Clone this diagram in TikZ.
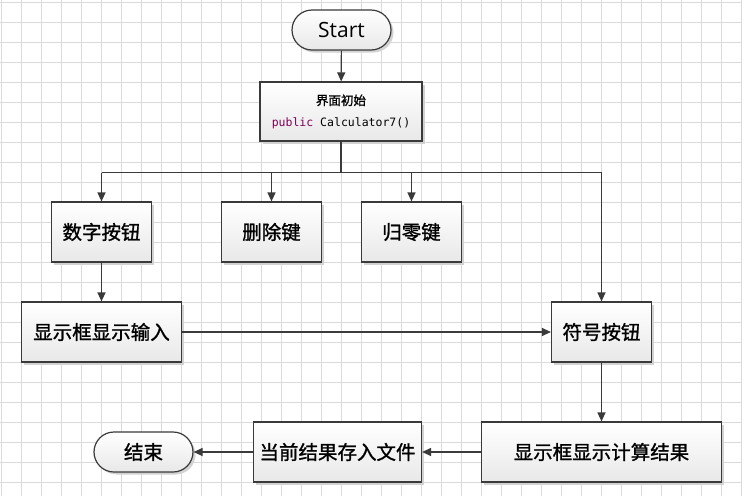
\documentclass[tikz,border=0pt]{standalone}
\usepackage{fontspec}
\setmainfont{Open Sans}
\setmonofont{DejaVu Sans Mono}
\newfontfamily\cjk[FakeBold=1.2]{Noto Sans CJK SC}
\usepackage{tikz}
\usetikzlibrary{positioning,arrows.meta,shadows}
\definecolor{kwpurple}{HTML}{7F0055}
\definecolor{edgegray}{HTML}{3A3A3A}
\definecolor{gridgray}{HTML}{DADADA}

\tikzset{
  gridline/.style={draw=gridgray, line width=1pt},
  box/.style={draw=edgegray, line width=1.2pt, rectangle, top color=white, bottom color=gray!18,
    drop shadow={shadow xshift=2.5pt, shadow yshift=-2.5pt, fill=gray!35, opacity=1},
    minimum height=60pt, inner sep=0pt, font=\cjk\fontsize{19.5}{22}\selectfont},
  term/.style={box, rounded corners=20pt, minimum height=40pt, minimum width=99pt},
  arr/.style={draw=edgegray, line width=1.2pt, -{Triangle[length=9pt,width=8pt]}},
  link/.style={draw=edgegray, line width=1.2pt}
}

\begin{document}
\begin{tikzpicture}[x=1pt,y=-1pt]
	\useasboundingbox (0,0) rectangle (742,496);
	\fill[white] (0,0) rectangle (742,496);
	% grid
	\foreach \i in {0,...,37}
		\draw[gridline] (1.5+20*\i,0) -- (1.5+20*\i,496);
	\foreach \i in {0,...,24}
		\draw[gridline] (0,2+20*\i) -- (742,2+20*\i);

	\node[term, font=\fontsize{21}{24}\selectfont] (start) at (341.5,30) {Start};
	\node[box, minimum width=162pt, minimum height=59pt, align=center] (init) at (341,111.5)
		{{\cjk\fontsize{12.5}{16}\selectfont 界面初始}\\[-1pt]
		 {\ttfamily\fontsize{11.5}{16}\selectfont\textcolor{kwpurple}{public} Calculator7()}};
	\coordinate (br) at (341,172.5);

	\node[box, minimum width=100pt] (numbtn) at (101.5,232) {数字按钮};
	\node[box, minimum width=100pt] (delkey) at (271.5,232) {删除键};
	\node[box, minimum width=100pt] (zerokey) at (411.5,232) {归零键};

	\node[box, minimum width=160pt] (showin) at (101.5,332) {显示框显示输入};
	\node[box, minimum width=100pt] (symbtn) at (601.5,332) {符号按钮};

	\node[box, minimum width=240pt] (showres) at (601.5,452) {显示框显示计算结果};
	\node[box, minimum width=168pt] (save) at (337.5,452) {当前结果存入文件};
	\node[term] (stop) at (143.5,452) {结束};

	\draw[arr] (start) -- (init);
	\draw[link] (init) -- (br);
	\draw[link] (numbtn.north |- br) -- (symbtn.north |- br);
	\draw[arr] (numbtn.north |- br) -- (numbtn);
	\draw[arr] (delkey.north |- br) -- (delkey);
	\draw[arr] (zerokey.north |- br) -- (zerokey);
	\draw[arr] (symbtn.north |- br) -- (symbtn);
	\draw[arr] (numbtn) -- (showin);
	\draw[arr] (showin) -- (symbtn);
	\draw[arr] (symbtn) -- (showres);
	\draw[arr] (showres) -- (save);
	\draw[arr] (save) -- (stop);
\end{tikzpicture}
\end{document}
